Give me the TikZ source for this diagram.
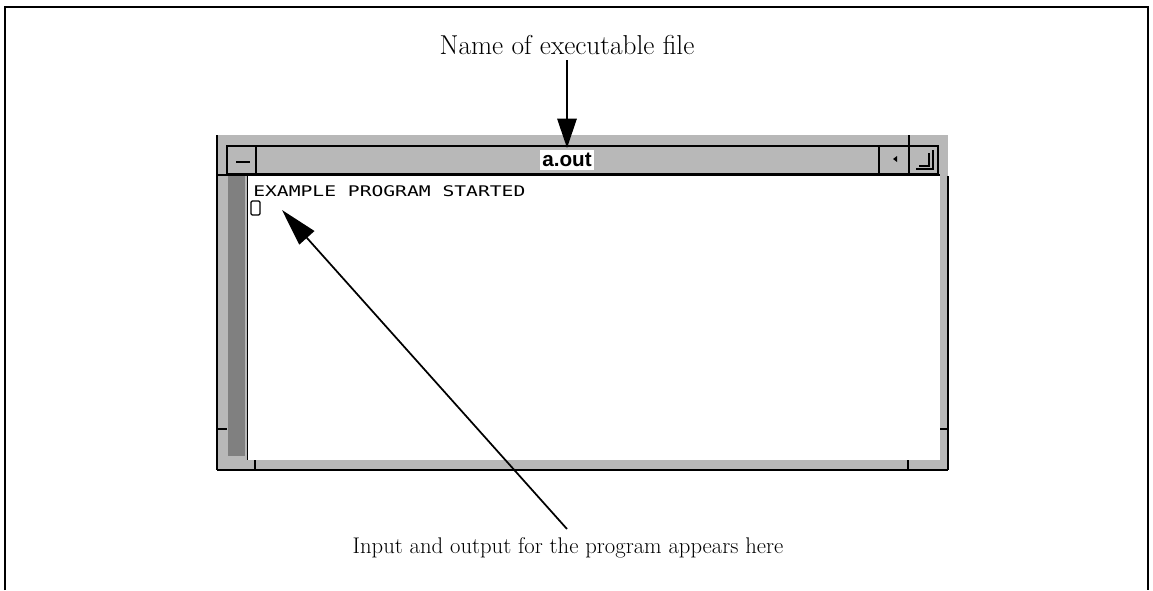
\documentclass[tikz,border=0pt]{standalone}
\usepackage{fontspec}
\newfontfamily\monofont{DejaVu Sans Mono}
\newfontfamily\titlefont{Liberation Sans}
\usetikzlibrary{arrows.meta}
\tikzset{
  px/.style={x=0.75pt,y=-0.75pt},
  shade1/.style={fill=black!28},
  shade2/.style={fill=black!50},
  label/.style={inner sep=0pt},
  callout/.style={line width=1.5pt, -{Triangle[width=14.5pt,length=22pt]}},
  callout2/.style={line width=1.3pt, -{Triangle[width=15pt,length=28pt]}},
  edge/.style={line width=1.2pt},
}
\begin{document}
\begin{tikzpicture}[px]
\useasboundingbox (0,0) rectangle (1153,590);
% outer frame
\draw[line width=1.5pt] (5,590) -- (5,7) -- (1148,7) -- (1148,590);
% window frame
\fill[shade1] (217,135) rectangle (948,470);
\fill[white] (248,176) rectangle (940,460);
% title bar
\draw[edge, shade1] (227,146) rectangle (938,174);
\draw[line width=2pt] (217,175) -- (940,175);
\draw[edge] (256,146) -- (256,174);
\draw[line width=2pt] (879,146) -- (879,174);
\draw[edge] (909,135) -- (909,174);
% menu button dash
\draw[line width=1.2pt] (236,162) -- (250,162);
% iconify dot
\fill (893,159) -- (897,156) -- (897,162) -- cycle;
% maximize L
\draw[line width=1.5pt] (933,150) -- (933,169) -- (916,169);
\draw[line width=0.8pt] (929,153) -- (929,166) -- (919,166);
% left scrollbar
\fill[shade2] (228,176) rectangle (245,456);
\draw[edge] (247.5,176) -- (247.5,460);
% bottom frame line
\draw[line width=1.5pt] (217,470) -- (948,470);
\draw[edge] (217,135) -- (217,470);
\draw[edge] (948,176) -- (948,470);
% resize ticks
\draw[edge] (217,429) -- (227,429);
\draw[edge] (940,429) -- (948,429);
\draw[edge] (255,460) -- (255,470);
\draw[edge] (908,460) -- (908,470);
% title
\node[fill=white, inner xsep=2pt, inner ysep=2pt, font=\titlefont\bfseries\fontsize{15.5}{17}\selectfont] (title) at (567,160) {a.out};
% terminal text
\node[anchor=base west, inner sep=0pt, font=\monofont\fontsize{11}{13}\selectfont] (term) at (253,196) {\scalebox{1.34}[1]{EXAMPLE PROGRAM STARTED}};
\draw[line width=0.9pt, rounded corners=1pt] (251,201) rectangle (260,215);
% labels
\node[label, font=\fontsize{20.5}{24}\selectfont] (top) at (567,45) {Name of executable file};
\node[label, font=\fontsize{17}{20}\selectfont] (bottom) at (568,548) {Input and output for the program appears here};
\coordinate (titletip) at (567,148);
\coordinate (cursortip) at (282,210);
\coordinate (tail) at (567,529);
\draw[callout] ([yshift=-4pt]top.south) -- (titletip);
\draw[callout2] (tail) -- (cursortip);
\end{tikzpicture}
\end{document}
